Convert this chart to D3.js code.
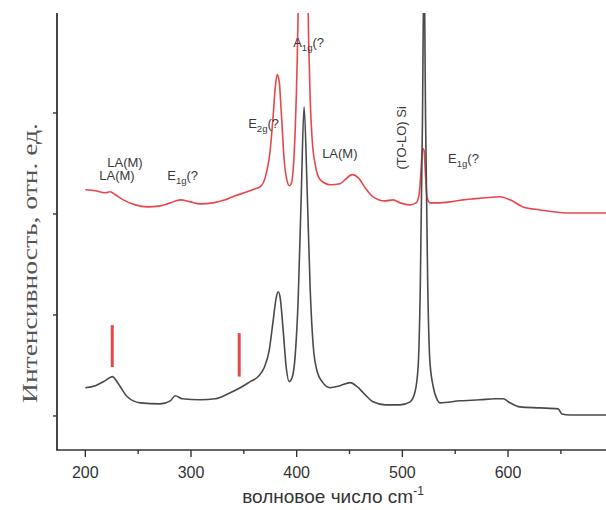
<!DOCTYPE html>
<html>
<head>
<meta charset="utf-8">
<script src="https://cdn.jsdelivr.net/npm/d3@7"></script>
<style>
  html, body { margin: 0; padding: 0; background: #fff; }
  svg { display: block; }
</style>
</head>
<body>
<svg id="chart" width="606" height="510"></svg>
<script>
// ---- data ----
const xTicks = [200, 300, 400, 500, 600];
const xMinorTicks = [250, 350, 450, 550, 650];
const yTicks = [0, 1, 2, 3];

// lower (black) spectrum: wavenumber, intensity
const blackWave = [200, 209.5, 218.9, 225.5, 231.2, 239.7, 252, 270.9, 280.4, 285.1, 291.7, 308.7, 322.9, 337.1, 346.6, 356, 363.6, 369.3, 374, 377.8, 380.6, 382.5, 384.4, 387.2, 390.1, 392.9, 395.7, 398.6, 401.4, 404.2, 407, 409.9, 412.8, 415.6, 419.4, 424.1, 431.7, 441.1, 450.6, 457.2, 464.8, 472.3, 483.7, 497.9, 507.3, 512, 515, 517, 519, 520.5, 522, 524, 526, 529, 533, 535.7, 554.6, 573.5, 587.7, 595.3, 601.9, 611.3, 630.2, 647.3, 651, 658.6, 692.7];
const blackInt = [0.28, 0.30, 0.35, 0.39, 0.32, 0.19, 0.13, 0.12, 0.15, 0.20, 0.17, 0.16, 0.17, 0.23, 0.28, 0.34, 0.39, 0.48, 0.65, 0.95, 1.17, 1.23, 1.17, 0.85, 0.48, 0.34, 0.38, 0.60, 1.15, 2.14, 3.06, 2.24, 1.25, 0.70, 0.44, 0.34, 0.28, 0.30, 0.33, 0.29, 0.21, 0.14, 0.11, 0.11, 0.14, 0.24, 0.50, 1.30, 2.90, 4.50, 2.90, 1.30, 0.55, 0.30, 0.16, 0.13, 0.15, 0.16, 0.17, 0.17, 0.13, 0.09, 0.08, 0.07, 0.02, 0.01, 0.01];

// upper (red) spectrum
const redWave = [200, 209.5, 218.9, 223.6, 228.4, 235.9, 247.3, 258.6, 270.9, 280.4, 289.8, 299.3, 308.7, 321, 332.4, 341.8, 353.2, 360.8, 365.5, 370.2, 374.9, 377.8, 379.7, 381.6, 383.5, 385.3, 388.2, 391.1, 393, 394.9, 396.7, 398.6, 400.5, 401.4, 403.3, 406.6, 409.9, 410.9, 411.8, 412.8, 414.7, 417.5, 422.2, 431.7, 441.1, 445.9, 452.5, 458.2, 464.8, 472.3, 483.7, 491.3, 497.9, 507.3, 513, 515.8, 517.7, 519.1, 520.5, 521.9, 523.4, 526.2, 532.9, 545.2, 557.4, 566.9, 578.3, 592.4, 601.9, 614.2, 630.3, 655.8, 672.8, 692.7];
const redInt = [2.24, 2.23, 2.21, 2.22, 2.19, 2.14, 2.09, 2.07, 2.08, 2.11, 2.14, 2.12, 2.10, 2.11, 2.14, 2.18, 2.22, 2.25, 2.27, 2.36, 2.63, 2.98, 3.25, 3.38, 3.31, 3.03, 2.53, 2.32, 2.28, 2.30, 2.44, 2.83, 3.52, 4.02, 6.0, 8.0, 6.0, 4.02, 3.52, 3.13, 2.73, 2.49, 2.34, 2.29, 2.30, 2.34, 2.39, 2.36, 2.26, 2.17, 2.13, 2.14, 2.11, 2.09, 2.11, 2.19, 2.44, 2.65, 2.63, 2.39, 2.16, 2.11, 2.11, 2.12, 2.14, 2.15, 2.16, 2.17, 2.14, 2.07, 2.04, 2.01, 2.01, 2.01];

// red marker bars: wavenumber, from, to
const markWave = [225.5, 345.6];
const markLow = [0.485, 0.39];
const markHigh = [0.90, 0.82];

// peak annotations: [main, subscript, rest], wavenumber (left), intensity (baseline)
const annMain = ["LA(M)", "LA(M)", "E", "E", "A", "LA(M)", "E"];
const annSub = ["", "", "1g", "2g", "1g", "", "1g"];
const annRest = ["", "", "(?", "(?", "(?", "", "(?"];
const annWave = [220.8, 213.2, 277.5, 354.1, 396.7, 424.1, 543.3];
const annInt = [2.47, 2.34, 2.34, 2.85, 3.65, 2.55, 2.50];
const siLabel = "(TO-LO) Si";
const siWave = 503.5, siInt = 2.44;

const xLabel = "волновое число cm";
const xLabelSup = "-1";
const yLabel = "Интенсивность, отн. ед.";

// ---- layout ----
const svg = d3.select("#chart");
const pL = 57, pR = 606, pT = 13, pB = 450;
const x = d3.scaleLinear().domain([173.2, 692.7]).range([pL, pR]);
const y = d3.scaleLinear().domain([-0.337, 3.99]).range([pB, pT]);

svg.append("defs").append("clipPath").attr("id", "clip")
  .append("rect").attr("x", pL).attr("y", pT).attr("width", pR - pL).attr("height", pB - pT);

const plot = svg.append("g").attr("clip-path", "url(#clip)");
const line = d3.line().x(d => x(d[0])).y(d => y(d[1])).curve(d3.curveMonotoneX);

const redData = redWave.map((w, i) => [w, redInt[i]]);
const blackData = blackWave.map((w, i) => [w, blackInt[i]]);

plot.append("path").datum(redData).attr("d", line)
  .attr("fill", "none").attr("stroke", "#e8474a").attr("stroke-width", 1.6);
plot.append("path").datum(blackData).attr("d", line)
  .attr("fill", "none").attr("stroke", "#4a4a4a").attr("stroke-width", 1.6);

plot.selectAll("line.mark").data(markWave).join("line").attr("class", "mark")
  .attr("x1", d => x(d)).attr("x2", d => x(d))
  .attr("y1", (d, i) => y(markLow[i])).attr("y2", (d, i) => y(markHigh[i]))
  .attr("stroke", "#e8474a").attr("stroke-width", 3);

// annotations
const annG = svg.append("g").attr("font-family", "Liberation Sans, Arial, sans-serif")
  .attr("font-size", 13).attr("fill", "#3a3a3a");
annMain.forEach((m, i) => {
  const t = annG.append("text").attr("x", x(annWave[i])).attr("y", y(annInt[i]));
  t.append("tspan").text(m);
  if (annSub[i]) {
    t.append("tspan").attr("font-size", 9.5).attr("dy", 4).text(annSub[i]);
    t.append("tspan").attr("dy", -4).text(annRest[i]);
  }
});
annG.append("text")
  .attr("transform", `translate(${x(siWave)},${y(siInt)}) rotate(-90)`)
  .text(siLabel);

// axes
const axG = svg.append("g");
const xAxis = axG.append("g").attr("transform", `translate(0,${pB})`);
xAxis.append("line").attr("x1", pL - 1).attr("x2", pR).attr("y1", 0).attr("y2", 0)
  .attr("stroke", "#333").attr("stroke-width", 1.6);
xAxis.selectAll("line.maj").data(xTicks).join("line").attr("class", "maj")
  .attr("x1", d => x(d)).attr("x2", d => x(d)).attr("y1", 0).attr("y2", 7)
  .attr("stroke", "#333").attr("stroke-width", 1.4);
xAxis.selectAll("line.min").data(xMinorTicks).join("line").attr("class", "min")
  .attr("x1", d => x(d)).attr("x2", d => x(d)).attr("y1", 0).attr("y2", 4)
  .attr("stroke", "#333").attr("stroke-width", 1.4);
xAxis.selectAll("text").data(xTicks).join("text")
  .attr("x", d => x(d)).attr("y", 28).attr("text-anchor", "middle")
  .attr("font-family", "Liberation Sans, Arial, sans-serif").attr("font-size", 16)
  .attr("fill", "#333").text(d => d);

const yAxis = axG.append("g").attr("transform", `translate(${pL},0)`);
yAxis.append("line").attr("x1", 0).attr("x2", 0).attr("y1", pT).attr("y2", pB)
  .attr("stroke", "#333").attr("stroke-width", 1.8);
yAxis.selectAll("line.t").data(yTicks).join("line").attr("class", "t")
  .attr("x1", -4).attr("x2", 0).attr("y1", d => y(d)).attr("y2", d => y(d))
  .attr("stroke", "#333").attr("stroke-width", 1.4);

// axis titles
const xt = svg.append("text").attr("x", 333).attr("y", 503).attr("text-anchor", "middle")
  .attr("font-family", "Liberation Sans, Arial, sans-serif").attr("font-size", 19).attr("fill", "#333");
xt.append("tspan").text(xLabel);
xt.append("tspan").attr("font-size", 12).attr("dy", -8).text(xLabelSup);

svg.append("text")
  .attr("transform", "translate(37,263) rotate(-90)")
  .attr("text-anchor", "middle")
  .attr("font-family", "Liberation Serif, Times New Roman, serif").attr("font-size", 22)
  .attr("fill", "#555")
  .attr("textLength", 280).attr("lengthAdjust", "spacingAndGlyphs")
  .text(yLabel);
</script>
</body>
</html>
